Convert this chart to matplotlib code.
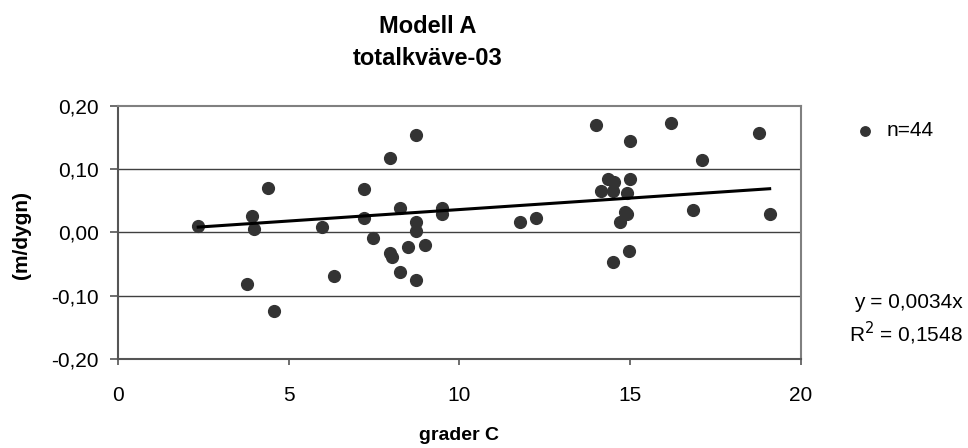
import numpy as np
import matplotlib.pyplot as plt

plt.rcParams['font.family'] = ['Liberation Sans', 'DejaVu Sans']

# temperature (grader C) and rate (m/dygn)
temp = [2.35, 3.93, 3.99, 4.39, 3.78, 4.56, 5.98, 6.32,
        7.97, 8.72, 7.22, 7.22, 7.46, 8.25, 8.72, 8.72, 7.97, 8.04,
        8.49, 8.99, 8.25, 8.72, 9.50, 9.50, 11.78, 12.24,
        14.00, 15.01, 16.21, 17.12, 18.77,
        14.35, 14.52, 15.01, 14.16, 14.50, 14.91, 14.84, 14.92,
        14.72, 16.84, 19.09, 14.96, 14.50]
rate = [0.010, 0.026, 0.005, 0.071, -0.081, -0.124, 0.008, -0.069,
        0.117, 0.154, 0.068, 0.023, -0.008, 0.038, 0.017, 0.002, -0.032, -0.039,
        -0.023, -0.020, -0.063, -0.075, 0.038, 0.029, 0.017, 0.023,
        0.170, 0.145, 0.173, 0.115, 0.157,
        0.084, 0.080, 0.084, 0.066, 0.066, 0.063, 0.033, 0.029,
        0.017, 0.035, 0.029, -0.029, -0.047]

x_ticks = [0, 5, 10, 15, 20]
y_ticks = [-0.20, -0.10, 0.00, 0.10, 0.20]
y_tick_labels = ['-0,20', '-0,10', '0,00', '0,10', '0,20']

x = np.array(temp)
y = np.array(rate)
slope = np.sum(x * y) / np.sum(x * x)  # trend line through origin

fig = plt.figure(figsize=(9.68, 4.48), dpi=100)
ax = fig.add_axes([0.1219, 0.1987, 0.7053, 0.5647])

for v in y_ticks[1:-1]:
    ax.axhline(v, color='#404040', lw=1.0, zorder=1)

ax.scatter(x, y, s=72, color='#333333', zorder=3, label='n=44')
xl = np.array([x.min(), x.max()])
ax.plot(xl, slope * xl, color='black', lw=2.2, zorder=4)

ax.set_xlim(0, 20)
ax.set_ylim(-0.20, 0.20)
ax.set_xticks(x_ticks)
ax.set_yticks(y_ticks)
ax.set_yticklabels(y_tick_labels)
ax.tick_params(labelsize=15, direction='out', color='#555555', width=1.2)
ax.tick_params(axis='x', length=4.5, pad=15)
ax.tick_params(axis='y', length=6, pad=8)
for sp in ax.spines.values():
    sp.set_color('#808080')
    sp.set_linewidth(1.5)
ax.spines['bottom'].set_color('#555555')
ax.spines['left'].set_color('#555555')

ax.set_xlabel('grader C', fontsize=14, fontweight='bold', labelpad=16)
ax.set_ylabel('(m/dygn)', fontsize=15, fontweight='bold')
ax.yaxis.set_label_coords(-0.128, 0.49)

fig.text(0.442, 0.926, 'Modell A', ha='center', va='baseline',
         fontsize=17, fontweight='bold')
fig.text(0.442, 0.855, 'totalkväve-03', ha='center', va='baseline',
         fontsize=17, fontweight='bold')

fig.legend(loc='center left', bbox_to_anchor=(0.853, 0.708), frameon=False,
           fontsize=15, handletextpad=0.0, markerscale=0.8)

fig.text(0.995, 0.312, 'y = 0,0034x', ha='right', va='baseline', fontsize=15)
fig.text(0.995, 0.237, 'R$^2$ = 0,1548', ha='right', va='baseline', fontsize=15)

fig.savefig('out.png', dpi=100)
